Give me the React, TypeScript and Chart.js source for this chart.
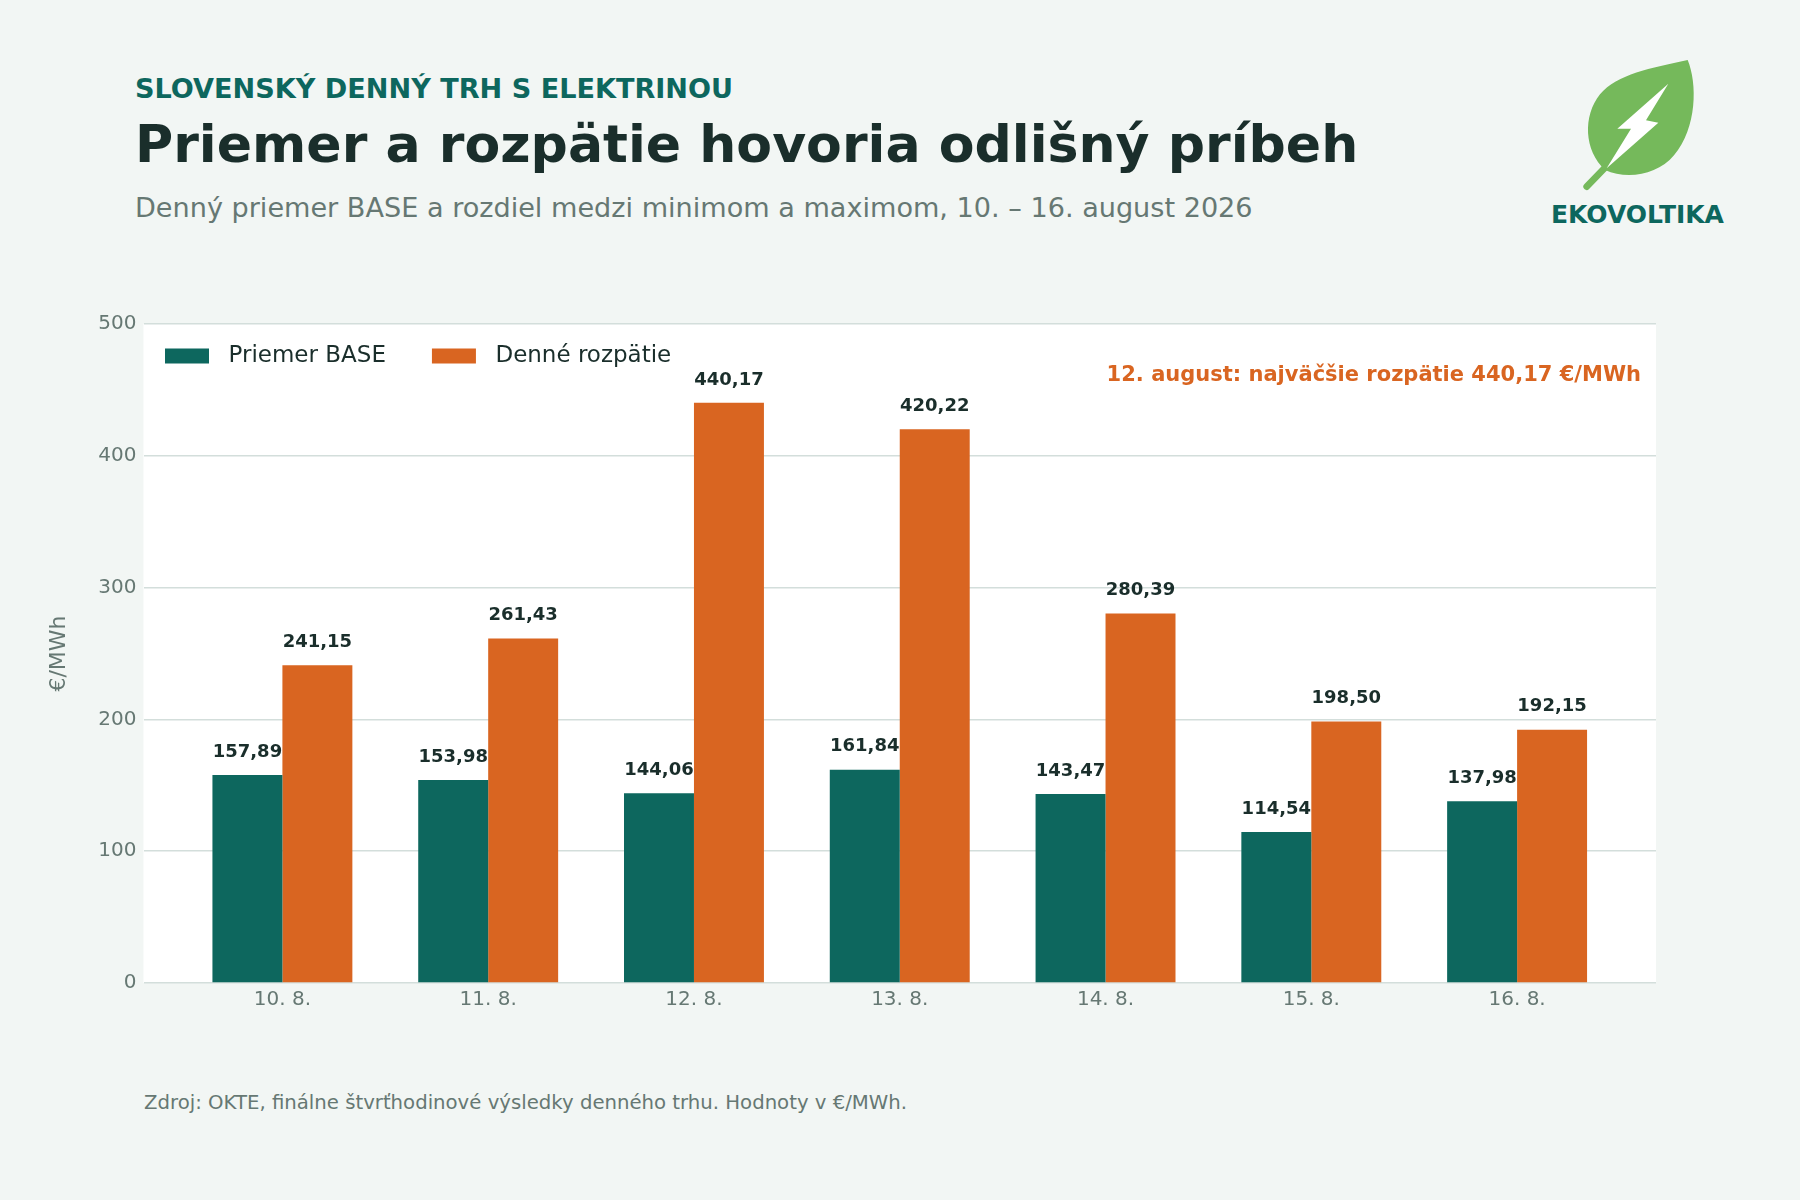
import React, { useEffect, useRef } from "react";
import { Chart, registerables } from "chart.js";

Chart.register(...registerables);

const categories = ["10. 8.", "11. 8.", "12. 8.", "13. 8.", "14. 8.", "15. 8.", "16. 8."];
const baseValues = [157.89, 153.98, 144.06, 161.84, 143.47, 114.54, 137.98];
const spreadValues = [241.15, 261.43, 440.17, 420.22, 280.39, 198.5, 192.15];
const seriesNames = ["Priemer BASE", "Denné rozpätie"];
const yTicks = [0, 100, 200, 300, 400, 500];
const annotationText = "12. august: najväčšie rozpätie 440,17 €/MWh";

const TEAL = "#0d675e";
const ORANGE = "#d96521";
const DARK = "#1a2e2b";
const GRAY = "#667873";
const BG = "#f2f6f4";
const GRID = "#d3dedb";
const LEAF = "#75b95b";
const FONT = "'DejaVu Sans', sans-serif";

const fmt = (v: number) => v.toFixed(2).replace(".", ",");

const plotBg = {
  id: "plotBg",
  beforeDraw(chart: any) {
    const { ctx, chartArea } = chart;
    ctx.save();
    ctx.fillStyle = "#ffffff";
    ctx.fillRect(chartArea.left, chartArea.top, chartArea.width, chartArea.height);
    ctx.restore();
  },
};

const valueLabels = {
  id: "valueLabels",
  afterDatasetsDraw(chart: any) {
    const { ctx } = chart;
    ctx.save();
    ctx.font = `bold 18px ${FONT}`;
    ctx.fillStyle = DARK;
    ctx.textAlign = "center";
    ctx.textBaseline = "middle";
    chart.data.datasets.forEach((ds: any, i: number) => {
      const meta = chart.getDatasetMeta(i);
      meta.data.forEach((bar: any, j: number) => {
        ctx.fillText(fmt(ds.data[j].y), bar.x, bar.y - 23);
      });
    });
    ctx.restore();
  },
};

const legendAndNote = {
  id: "legendAndNote",
  afterDraw(chart: any) {
    const { ctx, chartArea } = chart;
    ctx.save();
    const y = chartArea.top + 32;
    let x = chartArea.left + 21.5;
    ctx.font = `23px ${FONT}`;
    ctx.textBaseline = "middle";
    ctx.textAlign = "left";
    chart.data.datasets.forEach((ds: any) => {
      ctx.fillStyle = ds.backgroundColor;
      ctx.fillRect(x, y - 7.5, 44, 15);
      x += 44 + 19.5;
      ctx.fillStyle = DARK;
      ctx.fillText(ds.label, x, y);
      x += ctx.measureText(ds.label).width + 46;
    });
    ctx.font = `bold 21px ${FONT}`;
    ctx.fillStyle = ORANGE;
    ctx.textAlign = "right";
    ctx.fillText(annotationText, chartArea.right - 15, chartArea.top + 52);
    ctx.restore();
  },
};

function BarChart() {
  const ref = useRef<HTMLCanvasElement | null>(null);
  useEffect(() => {
    if (!ref.current) return;
    const chart = new Chart(ref.current, {
      type: "bar",
      data: {
        datasets: [
          {
            label: seriesNames[0],
            data: baseValues.map((v, i) => ({ x: i, y: v })),
            backgroundColor: TEAL,
            borderWidth: 0,
          },
          {
            label: seriesNames[1],
            data: spreadValues.map((v, i) => ({ x: i, y: v })),
            backgroundColor: ORANGE,
            borderWidth: 0,
          },
        ],
      },
      options: {
        animation: false,
        responsive: false,
        maintainAspectRatio: false,
        layout: { padding: { left: 0, right: 144, top: 44, bottom: 0 } },
        datasets: { bar: { categoryPercentage: 0.68, barPercentage: 1.0 } },
        plugins: {
          legend: { display: false },
          tooltip: { enabled: false },
          title: { display: false },
        },
        scales: {
          x: {
            type: "linear",
            min: -0.675,
            max: categories.length - 1 + 0.675,
            offset: false,
            afterBuildTicks(scale: any) {
              scale.ticks = categories.map((_, i) => ({ value: i }));
            },
            grid: { display: false },
            border: { display: false },
            ticks: {
              color: GRAY,
              font: { family: FONT, size: 20 },
              padding: -3,
              autoSkip: false,
              maxRotation: 0,
              callback: (v: any) => categories[Math.round(Number(v))] ?? "",
            },
            afterFit(scale: any) {
              scale.height = 57;
            },
          },
          y: {
            min: yTicks[0],
            max: yTicks[yTicks.length - 1],
            afterBuildTicks(scale: any) {
              scale.ticks = yTicks.map((v) => ({ value: v }));
            },
            grid: { color: GRID, lineWidth: 1.5, drawTicks: false },
            border: { display: false },
            ticks: { color: GRAY, font: { family: FONT, size: 20 }, padding: 7 },
            title: {
              display: true,
              text: "€/MWh",
              color: GRAY,
              font: { family: FONT, size: 22 },
              padding: { top: 46, bottom: 0 },
            },
            afterFit(scale: any) {
              scale.width = 143.5;
            },
          },
        },
      },
      plugins: [plotBg, valueLabels, legendAndNote],
    } as any);
    return () => chart.destroy();
  }, []);
  return <canvas ref={ref} width={1800} height={760} style={{ width: 1800, height: 760, display: "block" }} />;
}

export default function App() {
  const text = (extra: React.CSSProperties): React.CSSProperties => ({
    position: "absolute",
    fontFamily: FONT,
    whiteSpace: "nowrap",
    margin: 0,
    ...extra,
  });
  return (
    <div
      style={{
        position: "absolute",
        left: 0,
        top: 0,
        width: 1800,
        height: 1200,
        background: BG,
        overflow: "hidden",
      }}
    >
      <div style={text({ left: 135, top: 74.5, fontSize: 27.1, lineHeight: "27px", fontWeight: "bold", color: TEAL })}>
        SLOVENSKÝ DENNÝ TRH S ELEKTRINOU
      </div>
      <div style={text({ left: 135, top: 118, fontSize: 52.1, lineHeight: "52px", fontWeight: "bold", color: DARK })}>
        Priemer a rozpätie hovoria odlišný príbeh
      </div>
      <div style={text({ left: 135, top: 194, fontSize: 27.1, lineHeight: "27px", color: GRAY })}>
        Denný priemer BASE a rozdiel medzi minimom a maximom, 10. – 16. august 2026
      </div>
      <svg
        style={{ position: "absolute", left: 1560, top: 40 }}
        width={200}
        height={200}
        viewBox="0 0 600 600"
      >
        <path d="M 138 380 L 80 440" stroke={LEAF} strokeWidth={20} strokeLinecap="round" fill="none" />
        <path
          d="M 383 60 C 412 130, 412 262, 342 346 C 292 406, 200 420, 135 390 C 72 332, 68 228, 120 163 C 172 102, 272 84, 383 60 Z"
          fill={LEAF}
        />
        <polygon points="325,131 258,241 295,248 140,385 213,266 172,266" fill="#ffffff" />
      </svg>
      <div
        style={text({
          left: 1537.5,
          width: 200,
          textAlign: "center",
          top: 202,
          fontSize: 25,
          lineHeight: "25px",
          fontWeight: "bold",
          color: TEAL,
        })}
      >
        EKOVOLTIKA
      </div>
      <div style={{ position: "absolute", left: 0, top: 280, width: 1800, height: 760 }}>
        <BarChart />
      </div>
      <div style={text({ left: 144, top: 1093, fontSize: 19.7, lineHeight: "20px", color: GRAY })}>
        Zdroj: OKTE, finálne štvrťhodinové výsledky denného trhu. Hodnoty v €/MWh.
      </div>
    </div>
  );
}
